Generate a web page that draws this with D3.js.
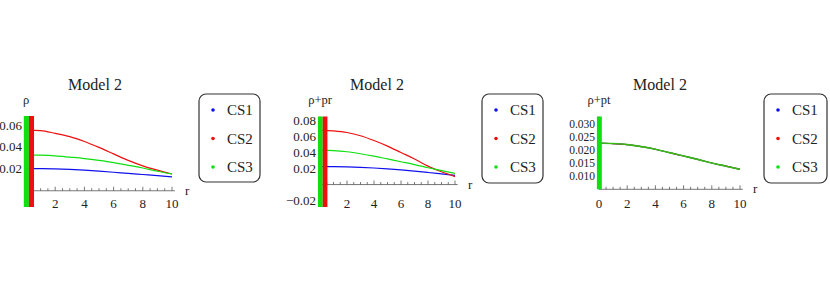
<!DOCTYPE html>
<html>
<head>
<meta charset="utf-8">
<script src="https://d3js.org/d3.v7.min.js"></script>
<style>
  body { margin: 0; background: #fff; }
  text { font-family: "Liberation Serif", "Times New Roman", serif; fill: #222; }
</style>
</head>
<body>
<div id="chart"></div>
<script>
// radial coordinate samples
var rVals = [0, 1, 2, 3, 4, 5, 6, 7, 8, 9, 10];

// panel 1: rho
var rhoCS1 = [0.0205, 0.0204, 0.0202, 0.0197, 0.0190, 0.0181, 0.0171, 0.0160, 0.0150, 0.0140, 0.0128];
var rhoCS2 = [0.0560, 0.0555, 0.0530, 0.0500, 0.0455, 0.0400, 0.0340, 0.0280, 0.0230, 0.0190, 0.0155];
var rhoCS3 = [0.0330, 0.0328, 0.0322, 0.0310, 0.0297, 0.0280, 0.0260, 0.0235, 0.0210, 0.0180, 0.0155];

// panel 2: rho + pr
var rhoPrCS1 = [0.0225, 0.0224, 0.0221, 0.0215, 0.0207, 0.0196, 0.0183, 0.0168, 0.0151, 0.0133, 0.0115];
var rhoPrCS2 = [0.0680, 0.0670, 0.0650, 0.0610, 0.0550, 0.0480, 0.0400, 0.0320, 0.0230, 0.0160, 0.0100];
var rhoPrCS3 = [0.0430, 0.0425, 0.0410, 0.0385, 0.0355, 0.0320, 0.0285, 0.0250, 0.0210, 0.0175, 0.0140];

// panel 3: rho + pt (the three cases coincide)
var rhoPtCS1 = [0.0228, 0.0226, 0.0222, 0.0214, 0.0204, 0.0191, 0.0178, 0.0165, 0.0151, 0.0139, 0.0127];
var rhoPtCS2 = [0.0228, 0.0226, 0.0222, 0.0214, 0.0204, 0.0191, 0.0178, 0.0165, 0.0151, 0.0139, 0.0127];
var rhoPtCS3 = [0.0228, 0.0226, 0.0222, 0.0214, 0.0204, 0.0191, 0.0178, 0.0165, 0.0151, 0.0139, 0.0127];

// singular strips near r = 0 (series, r from, r to)
var strips12 = [["CS3", -0.15, 0.2], ["CS2", 0.2, 0.55]];
var strips3 = [["CS3", -0.15, 0.2]];

var seriesNames = ["CS1", "CS2", "CS3"];
var colors = { CS1: "#1010ee", CS2: "#ee1010", CS3: "#10e010" };

var panels = [
    { title: "Model 2", ylabel: "\u03c1", data: [rhoCS1, rhoCS2, rhoCS3], strips: strips12,
      xr: [26, 172], yr: [207, 116], yd: [-0.015, 0.069], yTicks: [0.02, 0.04, 0.06], fmt: ".2f", yfs: 13,
      xTicks: [2, 4, 6, 8, 10], axisAt: 0, cx: 95, legend: [199, 94, 61, 88] },
    { title: "Model 2", ylabel: "\u03c1+pr", data: [rhoPrCS1, rhoPrCS2, rhoPrCS3], strips: strips12,
      xr: [320, 455], yr: [207, 116.5], yd: [-0.028, 0.085], yTicks: [-0.02, 0.02, 0.04, 0.06, 0.08], fmt: ".2f", yfs: 13,
      xTicks: [2, 4, 6, 8, 10], axisAt: 0, cx: 377, legend: [482, 94, 61, 89] },
    { title: "Model 2", ylabel: "\u03c1+pt", data: [rhoPtCS1, rhoPtCS2, rhoPtCS3], strips: strips3,
      xr: [599, 740], yr: [189.3, 116.5], yd: [0.005, 0.033], yTicks: [0.010, 0.015, 0.020, 0.025, 0.030], fmt: ".3f", yfs: 11.5,
      xTicks: [0, 2, 4, 6, 8, 10], axisAt: 0.005, cx: 660, legend: [764, 94, 63, 89] }
];

var svg = d3.select("#chart").append("svg").attr("width", 830).attr("height", 287);

panels.forEach(function(p, i) {
    var x = d3.scaleLinear().domain([0, 10]).range(p.xr);
    var y = d3.scaleLinear().domain(p.yd).range(p.yr);
    var g = svg.append("g");

    g.append("defs").append("clipPath").attr("id", "clip" + i)
        .append("rect").attr("x", x(-0.3)).attr("y", p.yr[1])
        .attr("width", x(10.3) - x(-0.3)).attr("height", p.yr[0] - p.yr[1]);

    // title
    g.append("text").attr("x", p.cx).attr("y", 90).attr("text-anchor", "middle")
        .style("font-size", "16px").text(p.title);

    // x axis with minor ticks
    var ax = g.append("g").attr("stroke", "#555").attr("stroke-width", 0.8);
    ax.append("line").attr("x1", x(0)).attr("x2", x(10.2))
        .attr("y1", y(p.axisAt)).attr("y2", y(p.axisAt));
    d3.range(0.5, 10.01, 0.5).forEach(function(t) {
        var major = (t % 2 === 0);
        ax.append("line").attr("x1", x(t)).attr("x2", x(t))
            .attr("y1", y(p.axisAt)).attr("y2", y(p.axisAt) - (major ? 4 : 2.5));
    });
    ax.append("line").attr("x1", x(0)).attr("x2", x(0))
        .attr("y1", p.yr[0]).attr("y2", p.yr[1]);

    g.selectAll(".xl").data(p.xTicks).enter().append("text")
        .attr("x", function(d) { return x(d); }).attr("y", 208)
        .attr("text-anchor", "middle").style("font-size", "13px")
        .text(function(d) { return d; });
    g.append("text").attr("x", x(10) + 13).attr("y", y(p.axisAt) + 4)
        .style("font-size", "13px").text("r");

    // y tick labels
    var f = d3.format(p.fmt);
    g.selectAll(".yl").data(p.yTicks).enter().append("text")
        .attr("x", x(0) - 4).attr("y", function(d) { return y(d) + 4; })
        .attr("text-anchor", "end").style("font-size", p.yfs + "px")
        .text(function(d) { return f(d).replace("-", "\u2212"); });
    g.append("text").attr("x", x(0)).attr("y", 104).attr("text-anchor", "middle")
        .style("font-size", "12.5px").text(p.ylabel);

    // curves
    var line = d3.line().x(function(d, k) { return x(rVals[k]); })
        .y(function(d) { return y(d); }).curve(d3.curveMonotoneX);
    p.data.forEach(function(vals, k) {
        g.append("path").attr("clip-path", "url(#clip" + i + ")")
            .attr("d", line(vals)).attr("fill", "none")
            .attr("stroke", colors[seriesNames[k]])
            .attr("stroke-width", i === 2 && k === 2 ? 1.6 : 1.2)
            .attr("stroke-opacity", i === 2 && k === 2 ? 0.8 : 1);
    });

    // strips near the origin
    p.strips.forEach(function(s) {
        g.append("rect").attr("x", x(s[1])).attr("width", x(s[2]) - x(s[1]))
            .attr("y", p.yr[1]).attr("height", p.yr[0] - p.yr[1])
            .attr("fill", colors[s[0]]);
    });

    // legend
    var L = p.legend;
    var lg = g.append("g");
    lg.append("rect").attr("x", L[0]).attr("y", L[1]).attr("width", L[2]).attr("height", L[3])
        .attr("rx", 7).attr("fill", "#fff").attr("stroke", "#333").attr("stroke-width", 1.2);
    seriesNames.forEach(function(name, k) {
        var cy = L[1] + 16 + k * 28.5;
        lg.append("circle").attr("cx", L[0] + 14).attr("cy", cy).attr("r", 1.8)
            .attr("fill", colors[name]);
        lg.append("text").attr("x", L[0] + 28).attr("y", cy + 5)
            .style("font-size", "15px").text(name);
    });
});
</script>
</body>
</html>
